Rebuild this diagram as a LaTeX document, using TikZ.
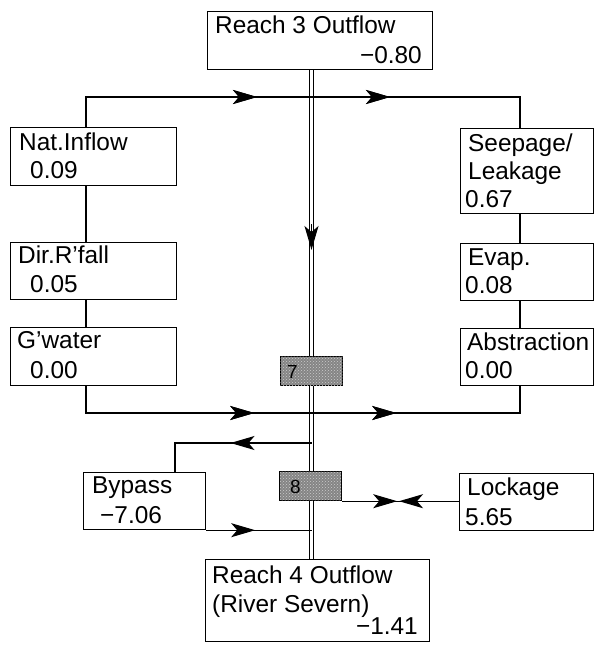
\documentclass[tikz,border=0pt]{standalone}
\usepackage{fontspec}
\setmainfont{Liberation Sans}
\usetikzlibrary{arrows.meta,decorations.markings,patterns}
\begin{document}
\begin{tikzpicture}[x=1pt,y=-1pt,
  box/.style={draw, line width=1.2pt, anchor=north west, inner sep=0pt, fill=white},
  hatchbox/.style={draw, line width=1.2pt, anchor=north west, inner sep=0pt,
     fill=black!48, postaction={pattern=crosshatch dots, pattern color=white!80!black}},
  txt/.style={anchor=base west, inner sep=0pt, font=\fontsize{24.4}{28}\selectfont},
  txtr/.style={anchor=base east, inner sep=0pt, font=\fontsize{24.4}{28}\selectfont},
  small/.style={anchor=base west, inner sep=0pt, font=\fontsize{19}{22}\selectfont},
  flow/.style={line width=1.2pt},
  mainline/.style={line width=1.2pt, double, double distance=2.2pt},
  headtip/.style={-{Stealth[length=24pt, width=14pt, inset=6pt]}},
  arrowat/.style={postaction={decorate}, decoration={markings,
     mark=at position #1 with {\arrow{Stealth[length=24pt, width=14pt, inset=6pt]}}}}
]
\useasboundingbox (0,0) rectangle (595,645);

% guide coordinates
\coordinate (L) at (86,0);
\coordinate (R) at (520,0);
\coordinate (M) at (311.5,0);
\coordinate (T) at (0,97);
\coordinate (B) at (0,413);
\coordinate (U) at (0,443);
\coordinate (K) at (175,0);
\coordinate (A1) at (311.5,224);
\coordinate (A2) at (311.5,250);

% main river line (drawn first, boxes on top)
\draw[mainline] (311.5,69) -- (311.5,559);
\draw[flow, headtip] (A1) -- (A2);

% boxes
\node[box, minimum width=225pt, minimum height=58pt] (r3) at (207,11) {};
\node[box, minimum width=166pt, minimum height=58pt] (nat) at (10,127) {};
\node[box, minimum width=166pt, minimum height=57pt] (dir) at (10,242) {};
\node[box, minimum width=166pt, minimum height=58pt] (gw) at (10,327) {};
\node[box, minimum width=133pt, minimum height=85pt] (seep) at (460,128) {};
\node[box, minimum width=133pt, minimum height=57pt] (evap) at (460,243) {};
\node[box, minimum width=133pt, minimum height=57pt] (abs) at (460,328) {};
\node[hatchbox, minimum width=62pt, minimum height=29pt] (b7) at (280,356) {};
\node[hatchbox, minimum width=62pt, minimum height=29pt] (b8) at (279,471) {};
\node[box, minimum width=122pt, minimum height=57pt] (byp) at (83,472) {};
\node[box, minimum width=134pt, minimum height=57pt] (lock) at (459,473) {};
\node[box, minimum width=224pt, minimum height=82pt] (r4) at (205,559) {};

% upper loop
\draw[flow, arrowat=201pt, arrowat=334pt]
  (nat.north -| L) -- (L |- T) -- (R |- T) -- (seep.north -| R);
% left and right chains
\draw[flow] (nat.south -| L) -- (dir.north -| L);
\draw[flow] (dir.south -| L) -- (gw.north -| L);
\draw[flow] (seep.south -| R) -- (evap.north -| R);
\draw[flow] (evap.south -| R) -- (abs.north -| R);
% lower loop
\draw[flow, arrowat=195pt, arrowat=337pt]
  (gw.south -| L) -- (L |- B) -- (R |- B) -- (abs.south -| R);
% bypass
\draw[flow, arrowat=81pt] (M |- U) -- (K |- U) -- (byp.north -| K);
\draw[flow, arrowat=49pt] (byp.south east) -- (byp.south east -| M);
% lockage
\draw[flow, arrowat=55pt] (b8.south east) -- (b8.south east -| lock.west);
\draw[flow, arrowat=60pt] (b8.south east -| lock.west) -- (b8.south east);

% texts
\node[txt] (t1) at (215,33) {Reach 3 Outflow};
\node[txtr] (t2) at (422,63) {−0.80};
\node[txt] (t3) at (19,150) {Nat.Inflow};
\node[txt] (t4) at (30,178) {0.09};
\node[txt] (t5) at (18,263) {Dir.R'fall};
\node[txt] (t6) at (30,292) {0.05};
\node[txt] (t7) at (17,348) {G'water};
\node[txt] (t8) at (30,378) {0.00};
\node[txt] (t9) at (468,151) {Seepage/};
\node[txt] (t10) at (468,179) {Leakage};
\node[txt] (t11) at (465,207) {0.67};
\node[txt] (t12) at (468,265) {Evap.};
\node[txt] (t13) at (465,293) {0.08};
\node[txt] (t14) at (467,350) {Abstraction};
\node[txt] (t15) at (465,378) {0.00};
\node[txt] (t16) at (92,493) {Bypass};
\node[txt] (t17) at (100,523) {−7.06};
\node[txt] (t18) at (467,495) {Lockage};
\node[txt] (t19) at (465,525) {5.65};
\node[txt] (t20) at (212,583) {Reach 4 Outflow};
\node[txt] (t21) at (212,612) {(River Severn)};
\node[txtr] (t22) at (418,634) {−1.41};
\node[small] (t23) at (287,378) {7};
\node[small] (t24) at (290,493) {8};
\end{tikzpicture}
\end{document}
